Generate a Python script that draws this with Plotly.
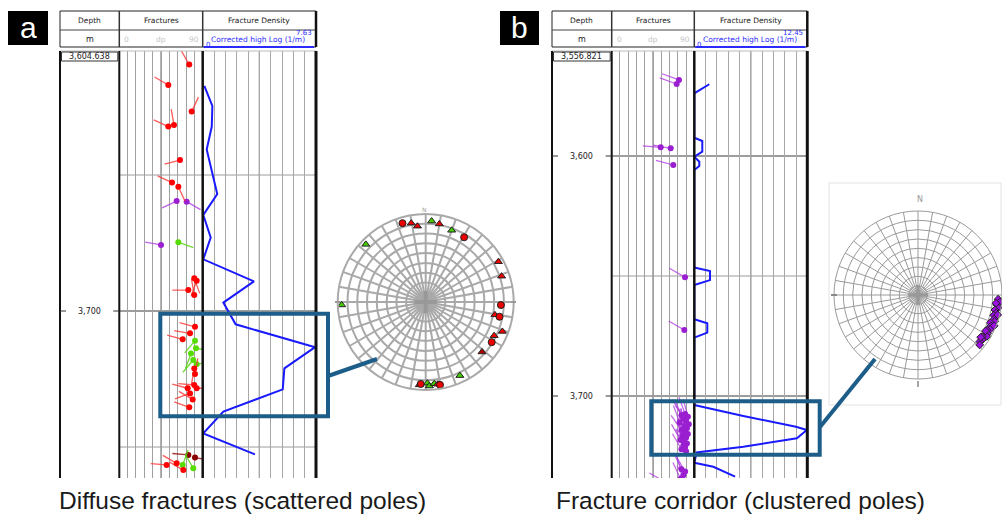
import numpy as np
import plotly.graph_objects as go

W, H = 1002, 514
def PX(x): return x / W
def PY(y): return 1 - y / H

# ---------------- DATA ----------------
# Panel a : fracture density log (1/m)
dens_a_depth = [3617.2, 3624.6, 3632.2, 3640.6, 3657.0, 3664.7, 3673.0, 3681.0, 3689.1,
                3696.9, 3704.9, 3713.3, 3721.1, 3728.8, 3737.0, 3745.0, 3752.7]
dens_a_val = [0.11, 0.65, 0.61, 0.27, 0.98, 0.04, 0.54, 0.04, 3.45,
              1.39, 2.22, 7.57, 5.50, 5.39, 1.39, 0.04, 3.52]

# Panel a : fractures (dip deg, depth m, dip azimuth deg, type)
frac_a_dip = [75.5, 52.9, 78.1, 59.0, 52.9, 65.5, 56.9, 63.7, 61.9, 72.7, 45.0, 63.7, 80.9,
              83.5, 74.5, 80.9, 81.7, 76.3, 68.4, 81.7, 82.8, 77.4, 79.8, 83.5, 80.9, 81.7,
              80.9, 73.8, 83.5, 76.3, 79.2, 75.5, 74.5, 81.7, 61.9, 51.1, 68.4, 79.8, 69.1]
frac_a_depth = [3609.4, 3616.9, 3626.7, 3631.6, 3632.2, 3644.5, 3652.8, 3654.3, 3659.6, 3659.8,
                3675.7, 3674.7, 3688.0, 3688.9, 3692.3, 3694.1, 3705.8, 3708.2, 3710.4, 3710.9,
                3713.7, 3715.6, 3718.0, 3719.6, 3721.1, 3723.2, 3727.2, 3728.4, 3728.4, 3730.3,
                3732.5, 3735.4, 3752.9, 3753.9, 3756.0, 3756.6, 3756.6, 3757.8, 3758.5]
frac_a_az = [330, 300, 25, 350, 295, 255, 295, 155, 245, 120, 280, 110, 160,
             200, 270, 350, 285, 280, 285, 220, 100, 200, 220, 80, 190, 10,
             275, 285, 90, 250, 300, 290, 275, 100, 300, 275, 20, 330, 300]
frac_a_type = ["red"] * 8 + ["purple", "purple", "purple", "green"] + ["red"] * 7 + \
              ["green"] * 5 + ["red"] * 8 + ["darkred", "darkred", "red", "red", "green", "green", "red"]

# Panel a : stereonet poles (azimuth deg, radius in dip deg, type)
pole_a_az = [343.6, 349.6, 353.8, 4.2, 9.9, 19.9, 30.7, 313.9, 61, 71.2, 92.3, 268, 100.5,
             101.3, 111, 116.2, 121.3, 131.6, 155.1, 183.5, 178.8, 177.5, 174, 171.7, 170.2, 184.4]
pole_a_r = [84, 82, 78, 83, 81, 78, 77, 85, 85, 82, 77, 86, 72,
            77, 84, 78, 79, 77, 83, 84, 83, 86, 84, 85, 86, 85]
pole_a_type = ["rc", "rt", "rt", "gt", "rt", "gt", "rc", "gt", "rt", "rt", "rc", "gt", "rt",
               "rc", "rt", "rt", "rc", "dt", "gt", "rc", "gt", "gt", "gt", "rt", "rc", "dt"]

# Panel b : fracture density log (1/m)
dens_b_depth = [3570.1, 3573.9, 3592.4, 3593.75, 3598.2, 3600.3, 3602.4, 3604.2, 3605.8,
                3646.5, 3647.9, 3651.7, 3653.75, 3668.0, 3669.7, 3673.6, 3675.7,
                3703.75, 3708.3, 3712.8, 3714.2, 3717.6, 3721.1, 3723.5, 3727.8, 3729.5, 3733.6]
dens_b_val = [1.65, 0, 0, 0.88, 0.88, 0, 0.55, 0.55, 0,
              0, 1.73, 1.73, 0, 0, 1.43, 1.43, 0,
              0, 5.4, 11.2, 12.4, 11.3, 5.4, 0.26, 0, 2.1, 4.5]

# Panel b : fractures
frac_b_dip = [73.3, 70.8, 53.4, 64.3, 67.1, 79.9, 79.1,
              80, 76, 83, 78, 81, 74, 84, 79, 82, 76, 80, 83, 77, 81, 75, 79, 82, 78, 80, 76, 81,
              76, 80, 78, 75, 81, 58]
frac_b_depth = [3568.3, 3570.0, 3596.4, 3596.8, 3603.75, 3650.5, 3672.5,
                3707.5, 3708.0, 3708.6, 3709.5, 3710.3, 3711.0, 3711.8, 3712.5, 3713.4, 3714.2,
                3715.0, 3715.8, 3716.6, 3717.4, 3718.3, 3719.0, 3719.8, 3720.6, 3721.4, 3722.2,
                3723.0, 3730.5, 3731.5, 3733.0, 3734.5, 3735.5, 3735.8]
frac_b_az = [290, 290, 275, 280, 285, 300, 300,
             340, 330, 345, 335, 325, 340, 330, 350, 335, 325, 340, 330, 345, 335, 330, 340,
             325, 335, 345, 330, 340, 335, 330, 340, 335, 330, 300]

# Panel b : stereonet poles
pole_b_az = [93, 95, 97, 99, 101, 103, 105, 107, 109, 111, 113, 115, 117, 119, 121,
             123, 125, 127, 129, 96, 104, 112, 118, 124]
pole_b_r = [86, 88, 85, 87, 84, 86, 84, 86, 87, 83, 85, 86, 83, 85, 86,
            82, 84, 83, 85, 84, 88, 88, 82, 81]

# ---------------- GEOMETRY (pixels) ----------------
TOP, BOT = 51, 478
A = dict(x0=60, xf=119.3, xd=202.7, x1=316, ref_depth=3700, ref_px=311, ppm=2.72,
         dmax=7.63)
B = dict(x0=552, xf=611.7, xd=694.3, x1=807.3, ref_depth=3600, ref_px=156, ppm=2.4,
         dmax=12.45)
for P in (A, B):
    P["top"] = P["ref_depth"] - (P["ref_px"] - TOP) / P["ppm"]
    P["bot"] = P["ref_depth"] + (BOT - P["ref_px"]) / P["ppm"]

fig = go.Figure()

COLORS = {"red": ("#ff0000", "rgba(255,50,50,0.8)"),
          "green": ("#55dd00", "rgba(90,210,20,0.85)"),
          "purple": ("#9a1fd0", "rgba(175,60,225,0.8)"),
          "darkred": ("#8b0000", "rgba(150,20,20,0.85)")}


def add_tadpoles(P, xa, ya, dips, depths, azs, types, L=16, width=1.3):
    dip_per_px = 90.0 / (P["xd"] - P["xf"])
    m_per_px = 1.0 / P["ppm"]
    for t in sorted(set(types)):
        xs, ys, dx, dy = [], [], [], []
        for d, z, a, tt in zip(dips, depths, azs, types):
            if tt != t:
                continue
            r = np.radians(a)
            xs += [d, d + L * np.sin(r) * dip_per_px, None]
            ys += [z, z - L * np.cos(r) * m_per_px, None]
            dx.append(d)
            dy.append(z)
        fig.add_trace(go.Scatter(x=xs, y=ys, mode="lines", xaxis=xa, yaxis=ya,
                                 line=dict(color=COLORS[t][1], width=width),
                                 hoverinfo="skip", showlegend=False))
        fig.add_trace(go.Scatter(x=dx, y=dy, mode="markers", xaxis=xa, yaxis=ya,
                                 marker=dict(color=COLORS[t][0], size=6, line=dict(width=0)),
                                 showlegend=False))


add_tadpoles(A, "x", "y", frac_a_dip, frac_a_depth, frac_a_az, frac_a_type)
add_tadpoles(B, "x3", "y3", frac_b_dip, frac_b_depth, frac_b_az, ["purple"] * len(frac_b_dip),
             L=18, width=1.2)

fig.add_trace(go.Scatter(x=dens_a_val, y=dens_a_depth, mode="lines", xaxis="x2", yaxis="y2",
                         line=dict(color="#1a1aff", width=2), showlegend=False))
fig.add_trace(go.Scatter(x=dens_b_val, y=dens_b_depth, mode="lines", xaxis="x4", yaxis="y4",
                         line=dict(color="#1a1aff", width=2), showlegend=False))

# ---- stereonets ----
sym = {"rc": ("circle", "#ee0000"), "rt": ("triangle-up", "#ee0000"),
       "gt": ("triangle-up", "#44cc00"), "dt": ("triangle-up", "#b00000")}
fig.add_trace(go.Scatterpolar(r=[0], theta=[0], mode="markers", subplot="polar",
                              marker=dict(symbol="cross-thin", size=16, line=dict(color="#999", width=4)),
                              showlegend=False))
for k in ["gt", "rt", "dt", "rc"]:
    rr = [r for r, t in zip(pole_a_r, pole_a_type) if t == k]
    th = [a for a, t in zip(pole_a_az, pole_a_type) if t == k]
    fig.add_trace(go.Scatterpolar(r=rr, theta=th, mode="markers", subplot="polar",
                                  marker=dict(symbol=sym[k][0], size=7, color=sym[k][1],
                                              line=dict(color="#222", width=1)),
                                  showlegend=False))
fig.add_trace(go.Scatterpolar(r=[0], theta=[0], mode="markers", subplot="polar2",
                              marker=dict(symbol="cross-thin", size=14, line=dict(color="#999", width=3)),
                              showlegend=False))
fig.add_trace(go.Scatterpolar(r=pole_b_r, theta=pole_b_az, mode="markers", subplot="polar2",
                              marker=dict(symbol="diamond", size=6, color="#9a10e0",
                                          line=dict(color="#222", width=1)),
                              showlegend=False))

# ---------------- AXES ----------------
def frac_x(P):
    return dict(domain=[PX(P["xf"]), PX(P["xd"])], range=[0, 90], dtick=9, tick0=0,
                showgrid=True, gridcolor="#a0a0a0", gridwidth=1, zeroline=False,
                showticklabels=False, ticks="", showline=False, fixedrange=True)

def dens_x(P):
    return dict(domain=[PX(P["xd"]), PX(P["x1"])], range=[0, P["dmax"]], dtick=P["dmax"] / 10,
                tick0=0, showgrid=True, gridcolor="#a8a8a8", gridwidth=1, zeroline=False,
                showticklabels=False, ticks="", showline=False, fixedrange=True)

def depth_y(P, anchor):
    return dict(domain=[PY(BOT), PY(TOP)], range=[P["bot"], P["top"]], showgrid=False,
                zeroline=False, showticklabels=False, ticks="", anchor=anchor, fixedrange=True)

fig.update_layout(
    xaxis=dict(frac_x(A), anchor="y"), yaxis=depth_y(A, "x"),
    xaxis2=dict(dens_x(A), anchor="y2"), yaxis2=dict(depth_y(A, "x2"), matches="y"),
    xaxis3=dict(frac_x(B), anchor="y3"), yaxis3=depth_y(B, "x3"),
    xaxis4=dict(dens_x(B), anchor="y4"), yaxis4=dict(depth_y(B, "x4"), matches="y3"),
)

def polar_cfg(x0, x1, y0, y1, gc, gw):
    return dict(domain=dict(x=[PX(x0), min(PX(x1), 1)], y=[PY(y1), PY(y0)]),
                bgcolor="white",
                angularaxis=dict(rotation=90, direction="clockwise", dtick=10,
                                 showticklabels=False, ticks="", gridcolor=gc, gridwidth=gw,
                                 linecolor=gc, linewidth=gw, showline=True),
                radialaxis=dict(range=[0, 90], dtick=10, showticklabels=False, ticks="",
                                showline=False, gridcolor=gc, gridwidth=gw))

fig.update_layout(polar=polar_cfg(337.7, 513.7, 214, 390, "#a9a9a9", 2),
                  polar2=polar_cfg(834, 1002, 204, 386, "#9a9a9a", 1))

# ---------------- SHAPES / ANNOTATIONS ----------------
shapes, ann = [], []

def line(x0, y0, x1, y1, color="black", width=1, layer="above"):
    shapes.append(dict(type="line", xref="paper", yref="paper", x0=PX(x0), x1=PX(x1),
                       y0=PY(y0), y1=PY(y1), line=dict(color=color, width=width), layer=layer))

def rect(x0, y0, x1, y1, color="black", width=1, fill=None, layer="above"):
    shapes.append(dict(type="rect", xref="paper", yref="paper", x0=PX(x0), x1=PX(x1),
                       y0=PY(y1), y1=PY(y0), line=dict(color=color, width=width),
                       fillcolor=fill if fill else "rgba(0,0,0,0)", layer=layer))

def text(x, y, s, size=8, color="#222", xanchor="center", family="DejaVu Sans", yref="paper"):
    ann.append(dict(x=PX(x), y=PY(y) if yref == "paper" else y, xref="paper", yref=yref,
                    text=s, showarrow=False, xanchor=xanchor, yanchor="middle",
                    font=dict(size=size, color=color, family=family)))

def panel(P, yref, label, top_text, grid_depths, dark_depths, depth_labels):
    x0, xf, xd, x1 = P["x0"], P["xf"], P["xd"], P["x1"]
    # header
    rect(x0, 11, x1, 47, "#222", 1)
    line(x0, 30, x1, 30, "#444", 1)
    line(xf, 11, xf, 47, "#333", 1.5)
    line(xd, 11, xd, 47, "#333", 1.5)
    line(x1, 11, x1, 47, "#111", 2.5)
    text((x0 + xf) / 2, 20.5, "Depth", 7.5)
    text((x0 + xf) / 2, 39.5, "m", 8)
    text((xf + xd) / 2, 20.5, "Fractures", 7.5)
    text(xf + 3, 40, "0", 7.5, "#c4c4c4", "left")
    text((xf + xd) / 2, 40, "dp", 7.5, "#c4c4c4")
    text(xd - 2, 40, "90", 7.5, "#c4c4c4", "right")
    text((xd + x1) / 2, 20.5, "Fracture Density", 7.5)
    text((xd + x1) / 2 - 1, 40, "Corrected high Log (1/m)", 7.5, "#2b2bff")
    text(x1 - 2, 33, top_text, 7, "#2b2bff", "right")
    text(xd + 1, 45, "0", 7, "#2b2bff", "left")
    line(xd + 1, 47, x1 - 2, 47, "#2b2bff", 2)
    # tracks
    line(x0, TOP, x1, TOP, "#bbbbbb", 1)
    for d in grid_depths:
        shapes.append(dict(type="line", xref="paper", yref=yref, x0=PX(xf), x1=PX(x1), y0=d, y1=d,
                           line=dict(color="#7d7d7d" if d in dark_depths else "#bdbdbd", width=1.3),
                           layer="between"))
    for xm in ((xf + xd) / 2, (xd + x1) / 2):
        line(xm, TOP, xm, BOT, "#8a8a8a", 1.3, "between")
    line(x0, TOP, x0, BOT, "#111", 2)
    line(xf, TOP, xf, BOT, "#111", 2)
    line(xd, TOP, xd, BOT, "#111", 2.5)
    line(x1, TOP, x1, BOT, "#111", 3)
    # depth labels
    rect(x0 + 1.5, 52, xf - 1.5, 61, "#333", 1)
    text((x0 + xf) / 2, 56.5, label, 8)
    for d, s in depth_labels:
        text((x0 + xf) / 2, d, s, 8, yref=yref)
        shapes.append(dict(type="line", xref="paper", yref=yref, x0=PX(x0), x1=PX(x0 + 6),
                           y0=d, y1=d, line=dict(color="#333", width=1)))
        shapes.append(dict(type="line", xref="paper", yref=yref, x0=PX(xf - 6), x1=PX(xf),
                           y0=d, y1=d, line=dict(color="#333", width=1)))


panel(A, "y", "3,604.638", "7.63", [3650, 3700, 3750], [3700], [(3700, "3,700")])
panel(B, "y3", "3,556.821", "12.45", [3600, 3650, 3700], [3600, 3700],
      [(3600, "3,600"), (3700, "3,700")])

# panel letters
rect(8, 11, 48, 45, "black", 0, fill="black")
text(28, 27, "a", 30, "white", family="Liberation Sans, Arial")
rect(500, 11, 539, 45, "black", 0, fill="black")
text(519.5, 27, "b", 30, "white", family="Liberation Sans, Arial")

# highlight boxes and connectors
BLUE = "#1d5d89"
rect(160.3, 313.7, 328, 416.3, BLUE, 4)
line(328, 376, 377, 359, BLUE, 4)
rect(651.3, 401.3, 819.7, 454.7, BLUE, 4)
line(820, 427, 875, 359, BLUE, 4)

# stereonet extras
rect(829, 183, 1001, 405, "#e2e2e2", 1, layer="below")
text(424.5, 209, "N", 6, "#999")
text(920, 199.5, "N", 8, "#999")
line(335, 302, 340, 302, "#999", 2)
line(511, 302, 516, 302, "#999", 2)
line(831, 295, 837, 295, "#888", 2)
line(918, 381, 918, 387, "#888", 1.5)

# captions
text(57, 500, "Diffuse fractures (scattered poles)", 24.5, "#1a1a1a", "left", "Liberation Sans, Arial")
text(554, 500, "Fracture corridor (clustered poles)", 24.5, "#1a1a1a", "left", "Liberation Sans, Arial")

fig.update_layout(shapes=shapes, annotations=ann, width=W, height=H,
                  margin=dict(l=0, r=0, t=0, b=0), paper_bgcolor="white",
                  plot_bgcolor="white", showlegend=False)

fig.write_html("out.html")
